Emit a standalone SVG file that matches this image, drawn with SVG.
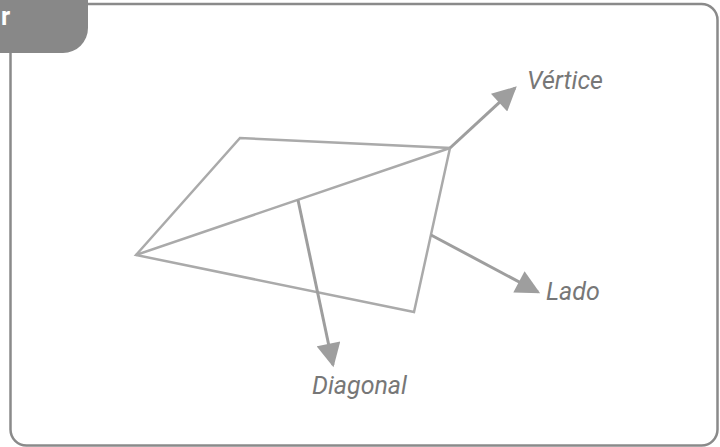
<svg xmlns="http://www.w3.org/2000/svg" width="720" height="447" viewBox="0 0 720 447">
<defs>
<style>
.shape{fill:none;stroke:#aaaaaa;stroke-width:2.5;stroke-linejoin:miter}
.conn{fill:none;stroke:#9e9e9e;stroke-width:3}
.lbl{font-family:Roboto,"Liberation Sans",sans-serif;font-style:italic;font-size:25px;fill:#777777}
</style>
<marker id="ah" viewBox="0 0 10 10" refX="9" refY="5" markerWidth="26" markerHeight="24" markerUnits="userSpaceOnUse" orient="auto">
<path d="M0,0 L10,5 L0,10 z" fill="#9e9e9e"/>
</marker>
</defs>
<rect x="10.5" y="4" width="707" height="441.5" rx="16" fill="#ffffff" stroke="#8a8a8a" stroke-width="2.5"/>
<g id="tab">
<path d="M0,0 H88 V28 A25,25 0 0 1 63,53 H0 Z" fill="#888888"/>
<text x="1" y="25" font-family="Roboto,'Liberation Sans',sans-serif" font-weight="bold" font-size="25" fill="#ffffff">r</text>
</g>
<g id="quadrilateral">
<polygon class="shape" points="136,255 240,138 450,148 414,312"/>
<line class="shape" x1="136" y1="255" x2="450" y2="148"/>
</g>
<g id="connectors">
<line class="conn" x1="450" y1="148" x2="515" y2="88" marker-end="url(#ah)"/>
<line class="conn" x1="431" y1="235" x2="538" y2="292" marker-end="url(#ah)"/>
<line class="conn" x1="298" y1="200" x2="333" y2="365" marker-end="url(#ah)"/>
</g>
<g id="label-vertice"><text class="lbl" x="527" y="89">Vértice</text></g>
<g id="label-lado"><text class="lbl" x="546" y="300">Lado</text></g>
<g id="label-diagonal"><text class="lbl" x="312" y="394">Diagonal</text></g>
</svg>
